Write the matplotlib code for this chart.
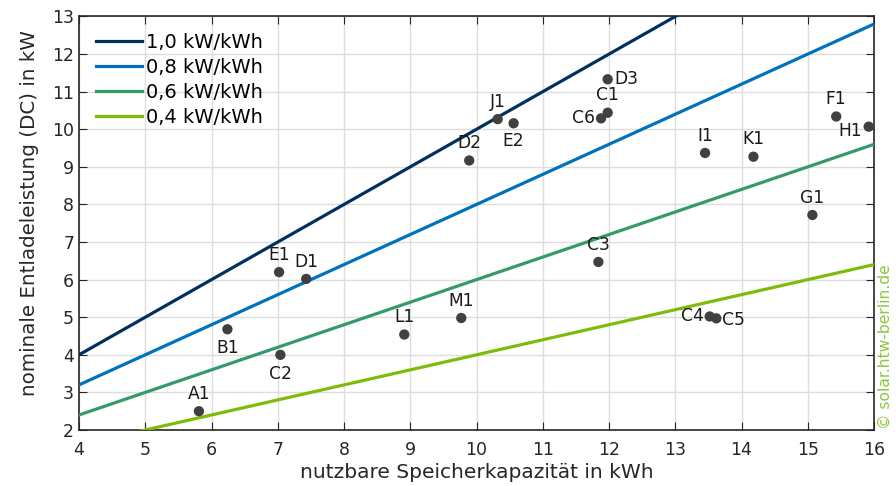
import matplotlib
matplotlib.use("Agg")
import matplotlib.pyplot as plt
import numpy as np

# Data
names = ["A1", "B1", "C2", "E1", "D1", "L1", "M1", "D2", "J1", "E2", "D3", "C1", "C6",
         "C3", "C4", "C5", "I1", "K1", "F1", "H1", "G1"]
capacity = [5.81, 6.24, 7.04, 7.02, 7.43, 8.91, 9.77, 9.89, 10.32, 10.56, 11.98, 11.98, 11.88,
            11.84, 13.52, 13.62, 13.45, 14.18, 15.43, 15.92, 15.07]
power = [2.50, 4.68, 4.00, 6.20, 6.02, 4.54, 4.98, 9.17, 10.27, 10.16, 11.33, 10.44, 10.29,
         6.47, 5.02, 4.97, 9.37, 9.27, 10.34, 10.07, 7.72]
ratios = [1.0, 0.8, 0.6, 0.4]
ratio_labels = ["1,0 kW/kWh", "0,8 kW/kWh", "0,6 kW/kWh", "0,4 kW/kWh"]
ratio_colors = ["#00305e", "#0072bd", "#35996a", "#7fbb0a"]

# label offsets (points) and alignment per point
label_pos = {
    "A1": (0, 6, "center", "bottom"),
    "B1": (0, -7, "center", "top"),
    "C2": (0, -7, "center", "top"),
    "E1": (0, 6, "center", "bottom"),
    "D1": (0, 6, "center", "bottom"),
    "L1": (0, 6, "center", "bottom"),
    "M1": (0, 6, "center", "bottom"),
    "D2": (0, 6, "center", "bottom"),
    "J1": (0, 6, "center", "bottom"),
    "E2": (0, -6, "center", "top"),
    "D3": (5, 0, "left", "center"),
    "C1": (0, 6, "center", "bottom"),
    "C6": (-4, 0, "right", "center"),
    "C3": (0, 6, "center", "bottom"),
    "C4": (-4, 0, "right", "center"),
    "C5": (4, -1, "left", "center"),
    "I1": (0, 6, "center", "bottom"),
    "K1": (0, 6, "center", "bottom"),
    "F1": (0, 6, "center", "bottom"),
    "H1": (-5, -3, "right", "center"),
    "G1": (0, 6, "center", "bottom"),
}

plt.rcParams['font.family'] = ['DejaVu Sans']
fig = plt.figure(figsize=(8.96, 4.86), dpi=100)
ax = fig.add_axes([79/896, 1-430/486, (874-79)/896, (430-16.5)/486])

xs = np.array([4.0, 16.0])
for r, lab, c in zip(ratios, ratio_labels, ratio_colors):
    ax.plot(xs, r * xs, color=c, lw=2.3, label=lab, zorder=3)

ax.scatter(capacity, power, s=55, color="#404040", zorder=4, edgecolors="none")
for n, x, y in zip(names, capacity, power):
    dx, dy, ha, va = label_pos[n]
    ax.annotate(n, (x, y), xytext=(dx, dy), textcoords="offset points",
                ha=ha, va=va, fontsize=12.3, color="#1a1a1a", zorder=5)

ax.set_xlim(4, 16)
ax.set_ylim(2, 13)
ax.set_xticks(range(4, 17))
ax.set_yticks(range(2, 14))
ax.grid(True, color="#dddddd", lw=1)
ax.set_axisbelow(True)
ax.tick_params(direction="in", top=True, right=True, labelsize=12.5, length=6,
               colors="#262626")
ax.tick_params(axis="x", pad=8)
for s in ax.spines.values():
    s.set_color("#262626")
    s.set_linewidth(1.2)
ax.set_xlabel("nutzbare Speicherkapazität in kWh", fontsize=14.5, color="#262626", labelpad=2.5)
ax.set_ylabel("nominale Entladeleistung (DC) in kW", fontsize=14.3, color="#262626")
ax.yaxis.set_label_coords(-0.050, 0.525)

leg = ax.legend(loc="upper left", frameon=False, fontsize=14, handlelength=2.4,
                handletextpad=0.2, labelspacing=0.3, borderaxespad=0.45)

fig.text(885/896, 1-346.5/486, "© solar.htw-berlin.de", rotation=90, color="#8cc63f",
         fontsize=11.2, ha="center", va="center")

fig.savefig("out.png", dpi=100)
